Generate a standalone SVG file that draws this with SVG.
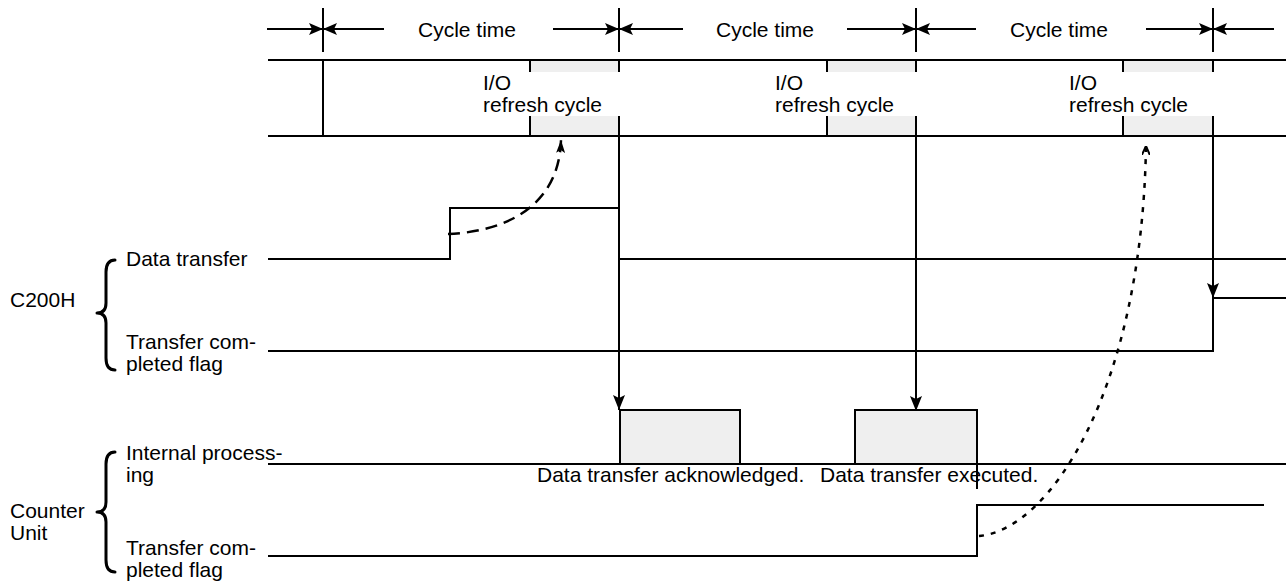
<svg xmlns="http://www.w3.org/2000/svg" width="1286" height="581" viewBox="0 0 1286 581">
<style>
  .ln{stroke:#000;stroke-width:2;fill:none}
  .br{stroke:#000;stroke-width:3;fill:none;stroke-linecap:round;stroke-linejoin:round}
  .t{font-family:"Liberation Sans",Arial,sans-serif;font-size:21px;fill:#000}
  .gray{fill:#efefef;stroke:none}
  .dash{stroke:#000;stroke-width:2.5;fill:none;stroke-dasharray:12 7}
  .dot{stroke:#000;stroke-width:2.5;fill:none;stroke-dasharray:5 7}
</style>
<defs>
  <marker id="ah" markerUnits="userSpaceOnUse" viewBox="0 0 14 12" refX="14" refY="6" markerWidth="14" markerHeight="12" orient="auto">
    <path d="M0,0 L14,6 L0,12 L3,6 z" fill="#000"/>
  </marker>
  <marker id="ahd" markerUnits="userSpaceOnUse" viewBox="0 0 15 12" refX="15" refY="6" markerWidth="15" markerHeight="12" orient="auto">
    <path d="M0,0 L15,6 L0,12 L3,6 z" fill="#000"/>
  </marker>
  <marker id="ahc" markerUnits="userSpaceOnUse" viewBox="0 0 13 9" refX="13" refY="4.5" markerWidth="13" markerHeight="9" orient="auto">
    <path d="M0,0 L13,4.5 L0,9 L3,4.5 z" fill="#000"/>
  </marker>
  <marker id="ahs" markerUnits="userSpaceOnUse" viewBox="0 0 9 8" refX="9" refY="4" markerWidth="9" markerHeight="8" orient="auto">
    <path d="M0,0 L9,4 L0,8" fill="none" stroke="#000" stroke-width="2"/>
  </marker>
</defs>

<!-- Cycle time scale -->
<g id="cycle-scale">
  <line class="ln" x1="323" y1="8" x2="323" y2="52"/>
  <line class="ln" x1="619" y1="8" x2="619" y2="52"/>
  <line class="ln" x1="916" y1="8" x2="916" y2="52"/>
  <line class="ln" x1="1213" y1="8" x2="1213" y2="52"/>
  <line class="ln" x1="267" y1="29" x2="323" y2="29" marker-end="url(#ah)"/>
  <line class="ln" x1="384" y1="29" x2="323" y2="29" marker-end="url(#ah)"/>
  <line class="ln" x1="553" y1="29" x2="619" y2="29" marker-end="url(#ah)"/>
  <line class="ln" x1="683" y1="29" x2="619" y2="29" marker-end="url(#ah)"/>
  <line class="ln" x1="847" y1="29" x2="916" y2="29" marker-end="url(#ah)"/>
  <line class="ln" x1="976" y1="29" x2="916" y2="29" marker-end="url(#ah)"/>
  <line class="ln" x1="1146" y1="29" x2="1213" y2="29" marker-end="url(#ah)"/>
  <line class="ln" x1="1274" y1="29" x2="1213" y2="29" marker-end="url(#ah)"/>
  <text class="t" x="467" y="37" text-anchor="middle">Cycle time</text>
  <text class="t" x="765" y="37" text-anchor="middle">Cycle time</text>
  <text class="t" x="1059" y="37" text-anchor="middle">Cycle time</text>
</g>

<!-- I/O refresh row -->
<g id="io-refresh-row">
  <rect class="gray" x="530" y="60" width="90" height="76"/>
  <rect class="gray" x="827" y="60" width="89" height="76"/>
  <rect class="gray" x="1123" y="60" width="90" height="76"/>
  <rect x="480" y="72" width="143" height="44" fill="#fff"/>
  <rect x="772" y="72" width="147" height="44" fill="#fff"/>
  <rect x="1066" y="72" width="150" height="44" fill="#fff"/>
  <line class="ln" x1="323" y1="60" x2="323" y2="136"/>
  <line class="ln" x1="530" y1="60" x2="530" y2="72"/>
  <line class="ln" x1="530" y1="116" x2="530" y2="136"/>
  <line class="ln" x1="619" y1="60" x2="619" y2="72"/>
  <line class="ln" x1="619" y1="116" x2="619" y2="136"/>
  <line class="ln" x1="827" y1="60" x2="827" y2="72"/>
  <line class="ln" x1="827" y1="116" x2="827" y2="136"/>
  <line class="ln" x1="916" y1="60" x2="916" y2="72"/>
  <line class="ln" x1="916" y1="116" x2="916" y2="136"/>
  <line class="ln" x1="1123" y1="60" x2="1123" y2="72"/>
  <line class="ln" x1="1123" y1="116" x2="1123" y2="136"/>
  <line class="ln" x1="1213" y1="60" x2="1213" y2="72"/>
  <line class="ln" x1="1213" y1="116" x2="1213" y2="136"/>
  <line class="ln" x1="268" y1="60" x2="1286" y2="60"/>
  <line class="ln" x1="268" y1="136" x2="1286" y2="136"/>
  <text class="t" x="483" y="90">I/O</text>
  <text class="t" x="483" y="112">refresh cycle</text>
  <text class="t" x="775" y="90">I/O</text>
  <text class="t" x="775" y="112">refresh cycle</text>
  <text class="t" x="1069" y="90">I/O</text>
  <text class="t" x="1069" y="112">refresh cycle</text>
</g>

<!-- C200H signals -->
<g id="c200h">
  <text class="t" x="10" y="307">C200H</text>
  <path class="br" d="M115,260 Q106,260 106,272 L106,303 Q106,313 97,313 Q106,313 106,323 L106,358 Q106,370 115,370"/>
  <text class="t" x="126" y="266">Data transfer</text>
  <text class="t" x="126" y="349">Transfer com-</text>
  <text class="t" x="126" y="371">pleted flag</text>
  <polyline class="ln" points="268,259 450,259 450,208 619,208 619,259 1286,259"/>
  <polyline class="ln" points="268,351 1213,351 1213,298 1286,298"/>
</g>

<!-- Counter Unit signals -->
<g id="counter-unit">
  <text class="t" x="10" y="518">Counter</text>
  <text class="t" x="10" y="540">Unit</text>
  <path class="br" d="M115,452 Q106,452 106,464 L106,502 Q106,512 97,512 Q106,512 106,522 L106,560 Q106,572 115,572"/>
  <text class="t" x="126" y="460">Internal process-</text>
  <text class="t" x="126" y="482">ing</text>
  <text class="t" x="126" y="555">Transfer com-</text>
  <text class="t" x="126" y="577">pleted flag</text>
  <rect x="620" y="410" width="120" height="54" fill="#efefef" stroke="#000" stroke-width="2"/>
  <rect x="855" y="410" width="122" height="54" fill="#efefef" stroke="#000" stroke-width="2"/>
  <line class="ln" x1="268" y1="464" x2="1286" y2="464"/>
  <line class="ln" x1="977" y1="464" x2="977" y2="489"/>
  <polyline class="ln" points="268,556 977,556 977,505 1264,505"/>
  <text class="t" x="537" y="482">Data transfer acknowledged.</text>
  <text class="t" x="820" y="482">Data transfer executed.</text>
</g>

<!-- Connectors -->
<g id="connectors">
  <line class="ln" x1="619" y1="136" x2="619" y2="410" marker-end="url(#ahd)"/>
  <line class="ln" x1="916" y1="136" x2="916" y2="411" marker-end="url(#ahd)"/>
  <line class="ln" x1="1213" y1="136" x2="1213" y2="298" marker-end="url(#ahd)"/>
  <path class="dash" d="M448,234 C500,232 559,210 561,140" marker-end="url(#ahc)"/>
  <path class="dot" d="M979,536 C1050,530 1142,390 1146,146" marker-end="url(#ahs)"/>
</g>
</svg>
